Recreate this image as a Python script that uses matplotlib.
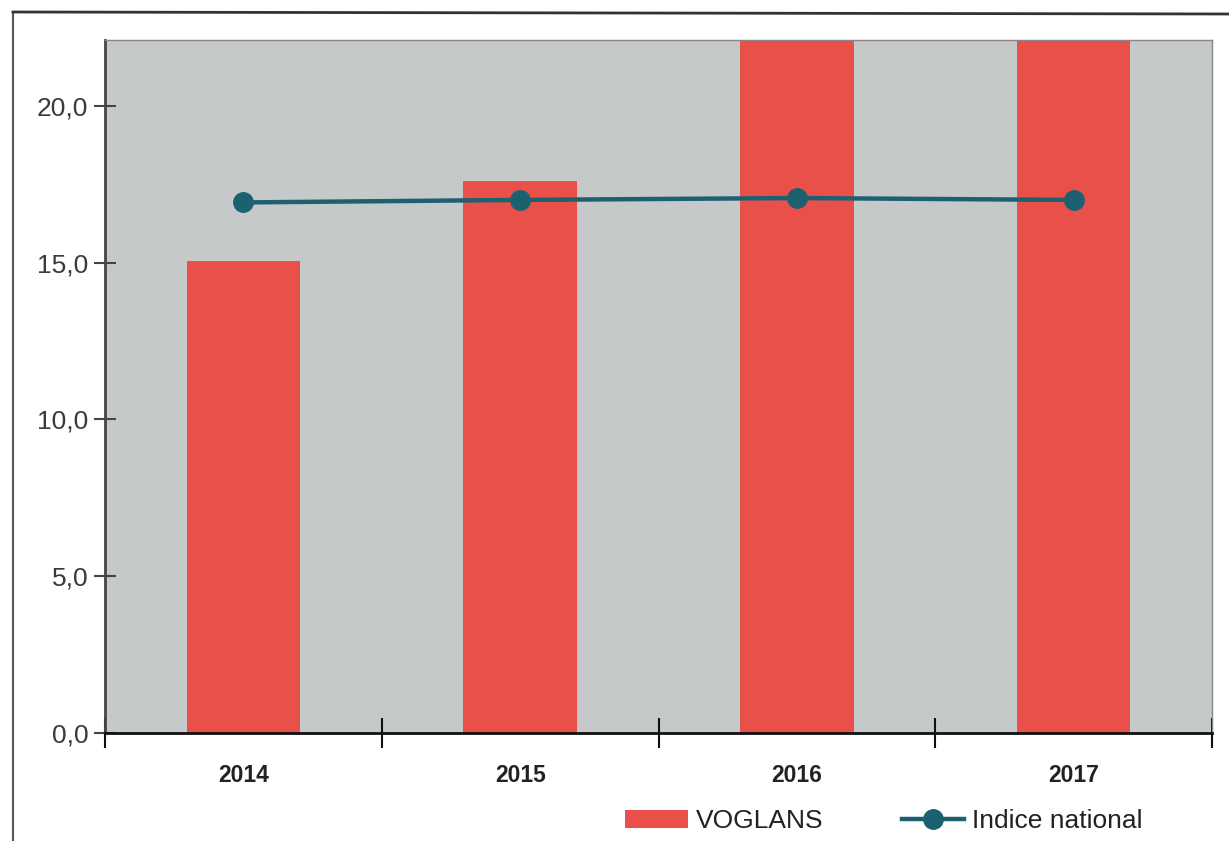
import matplotlib
matplotlib.use("Agg")
import matplotlib.pyplot as plt
from matplotlib.lines import Line2D

years = ["2014", "2015", "2016", "2017"]
voglans = [15.05, 17.6, 23.0, 23.0]
indice_national = [16.92, 17.0, 17.06, 17.0]
yticks = [0, 5, 10, 15, 20]
ytick_labels = ["0,0", "5,0", "10,0", "15,0", "20,0"]

fam = "Liberation Sans"

fig = plt.figure(figsize=(12.29, 8.41), dpi=100)
ax = fig.add_axes([105/1229, 1-733/841, (1212-105)/1229, (733-40)/841])
ax.set_facecolor("#c6c9c9")

x = list(range(len(years)))
bars = ax.bar(x, voglans, width=0.41, color="#e9504a", zorder=2, label="VOGLANS")
line, = ax.plot(x, indice_national, color="#1d6170", lw=3.2, marker="o", ms=14,
                zorder=3, label="Indice national")

ax.set_xlim(-0.5, 3.5)
ax.set_ylim(0, 22.1)
ax.set_yticks(yticks)
ax.set_yticklabels(ytick_labels, fontfamily=fam, fontsize=19, color="#3a3a3a")
ax.set_xticks([i - 0.5 for i in range(len(years) + 1)])
ax.set_xticklabels([])
ax.set_xticks(x, minor=True)
ax.set_xticklabels(years, minor=True, fontfamily=fam, fontsize=16.5,
                   fontweight="bold", color="#222222")
ax.tick_params(axis="x", which="minor", length=0, pad=22)
ax.tick_params(axis="x", which="major", direction="inout", length=22, width=1.5, color="#111111")
ax.tick_params(axis="y", direction="inout", length=16, width=1.5, color="#444444", pad=4)

for s in ["top", "right"]:
    ax.spines[s].set_color("#888888")
    ax.spines[s].set_linewidth(1.0)
ax.spines["left"].set_color("#444444")
ax.spines["left"].set_linewidth(2.0)
ax.spines["bottom"].set_color("#111111")
ax.spines["bottom"].set_linewidth(2.0)

# scan border lines
fig.add_artist(Line2D([13/1229, 13/1229], [0, 1-12/841], transform=fig.transFigure,
                      color="#555555", lw=1.5))
fig.add_artist(Line2D([13/1229, 1], [1-12/841, 1-14/841], transform=fig.transFigure,
                      color="#333333", lw=2))

leg = fig.legend([bars, line], ["VOGLANS", "Indice national"], loc="center",
                 bbox_to_anchor=(884/1229, 1-821/841),
                 ncol=2, frameon=False, handlelength=2.35, handleheight=0.7,
                 columnspacing=3.0, handletextpad=0.3,
                 prop={"family": fam, "size": 19})
for t in leg.get_texts():
    t.set_color("#222222")

fig.savefig("out.png", dpi=100)
